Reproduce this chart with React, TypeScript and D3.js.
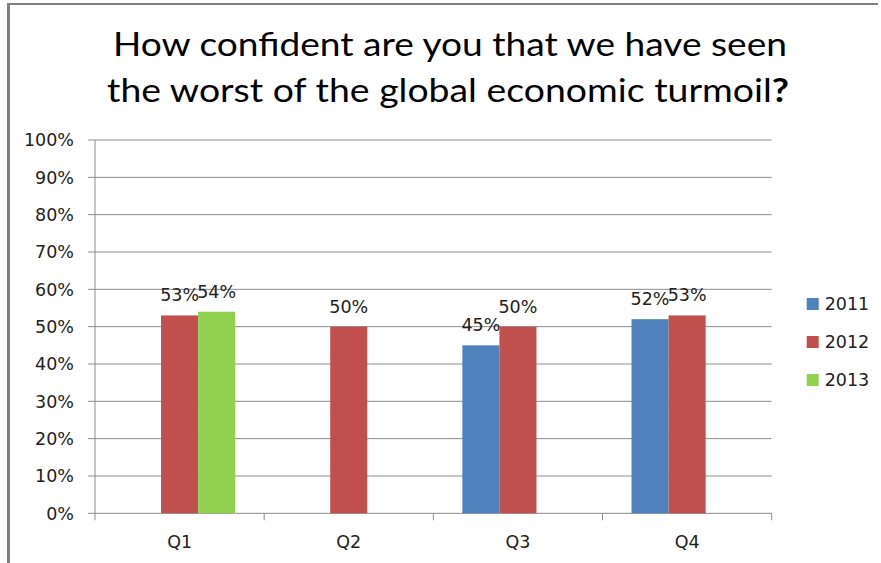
import React from "react";
import * as d3 from "d3";

const categories = ["Q1", "Q2", "Q3", "Q4"];
const seriesNames = ["2011", "2012", "2013"];
const values2011: (number | null)[] = [null, null, 45, 52];
const values2012: (number | null)[] = [53, 50, 50, 53];
const values2013: (number | null)[] = [54, null, null, null];
const seriesColors = ["#4F81BD", "#C0504D", "#92D050"];
const yTicks = [0, 10, 20, 30, 40, 50, 60, 70, 80, 90, 100];
const titleLines = ["How confident are you that we have seen", "the worst of the global economic turmoil"];

const W = 881;
const H = 563;
const plotLeft = 95;
const plotRight = 771.7;
const plotTop = 140;
const plotBottom = 513.3;

export default function App() {
  const allSeries = [values2011, values2012, values2013];
  const x0 = d3.scaleBand<string>().domain(categories).range([plotLeft, plotRight]).paddingInner(0).paddingOuter(0);
  const groupPad = 29;
  const x1 = d3
    .scaleBand<string>()
    .domain(seriesNames)
    .range([groupPad, x0.bandwidth() - groupPad])
    .padding(0);
  const y = d3.scaleLinear().domain([0, 100]).range([plotBottom, plotTop]);
  const font = "'DejaVu Sans', Verdana, sans-serif";
  const gridColor = "#8c8c8c";
  const fs = 17.5;

  return (
    <svg width={W} height={H} style={{ position: "absolute", left: 0, top: 0, background: "#fff" }}>
      <rect x={0} y={0} width={W} height={H} fill="#fff" />
      {/* frame */}
      <line x1={8.5} y1={4} x2={878} y2={4} stroke="#808080" strokeWidth={2} />
      <line x1={8.5} y1={3} x2={8.5} y2={H} stroke="#808080" strokeWidth={3} />

      {/* title */}
      <text
        x={450}
        y={56}
        textAnchor="middle"
        fontFamily="Lato, 'Open Sans', sans-serif"
        fontSize={32}
        fill="#000"
        textLength={674}
        lengthAdjust="spacingAndGlyphs"
      >
        {titleLines[0]}
      </text>
      <text
        x={448}
        y={101.7}
        textAnchor="middle"
        fontFamily="Lato, 'Open Sans', sans-serif"
        fontSize={32}
        fill="#000"
        textLength={682}
        lengthAdjust="spacingAndGlyphs"
      >
        {titleLines[1]}
        <tspan fontWeight="bold">?</tspan>
      </text>

      {/* gridlines + y ticks */}
      {yTicks.map((t) => (
        <g key={t}>
          <line x1={88} x2={plotRight} y1={y(t)} y2={y(t)} stroke={gridColor} strokeWidth={1} />
          <text
            x={74}
            y={y(t)}
            dy="0.36em"
            textAnchor="end"
            fontFamily={font}
            fontSize={fs}
            fill="#222"
          >
            {t}%
          </text>
        </g>
      ))}
      {/* y axis */}
      <line x1={plotLeft} x2={plotLeft} y1={plotTop} y2={plotBottom} stroke={gridColor} strokeWidth={1} />
      {/* x axis ticks */}
      {[...categories.map((c) => x0(c)!), plotRight].map((xv, i) => (
        <line key={i} x1={xv} x2={xv} y1={plotBottom} y2={plotBottom + 7} stroke={gridColor} strokeWidth={1} />
      ))}

      {/* bars */}
      {allSeries.map((vals, si) =>
        vals.map((v, ci) => {
          if (v === null) return null;
          const bx = x0(categories[ci])! + x1(seriesNames[si])!;
          const bw = x1.bandwidth();
          return (
            <g key={`${si}-${ci}`}>
              <rect x={bx} y={y(v)} width={bw} height={plotBottom - y(v)} fill={seriesColors[si]} />
              <text
                x={bx + bw / 2}
                y={y(v) - 14}
                textAnchor="middle"
                fontFamily={font}
                fontSize={fs}
                fill="#222"
              >
                {v}%
              </text>
            </g>
          );
        })
      )}

      {/* category labels */}
      {categories.map((c) => (
        <text
          key={c}
          x={x0(c)! + x0.bandwidth() / 2}
          y={547.7}
          textAnchor="middle"
          fontFamily={font}
          fontSize={fs}
          fill="#222"
        >
          {c}
        </text>
      ))}

      {/* legend */}
      {seriesNames.map((s, i) => (
        <g key={s} transform={`translate(806.7, ${298 + i * 38})`}>
          <rect x={0} y={0} width={12} height={12} fill={seriesColors[i]} />
          <text x={18} y={11.5} fontFamily={font} fontSize={fs} fill="#222">
            {s}
          </text>
        </g>
      ))}
    </svg>
  );
}
